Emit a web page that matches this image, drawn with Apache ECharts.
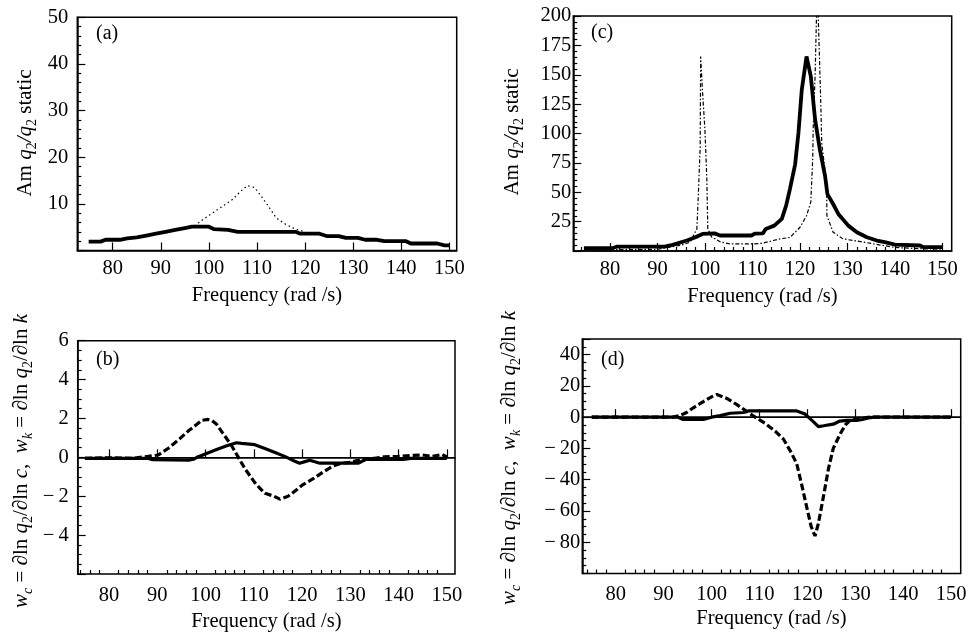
<!DOCTYPE html>
<html><head><meta charset="utf-8">
<script src="https://cdn.jsdelivr.net/npm/echarts@6/dist/echarts.min.js"></script>
<style>html,body{margin:0;padding:0;background:#fff}#c{width:975px;height:632px}</style>
</head><body><div id="c"></div>
<script>
const FONT = 'Liberation Serif';

// tick labels
const xTicks = [80, 90, 100, 110, 120, 130, 140, 150];
const xMinorTicks = [74,76,78,82,84,86,88,92,94,96,98,102,104,106,108,112,114,116,118,122,124,126,128,132,134,136,138,142,144,146,148];

// panel (a)
const aSolidX = [75, 77.5, 78.5, 81.5, 83, 85, 87, 89, 91, 93, 95, 96.5, 100, 101, 104, 106, 118, 119, 123, 124.5, 127, 128.5, 131, 132.5, 135, 136.5, 141, 142, 147.5, 149, 150];
const aSolidY = [1.9, 1.9, 2.3, 2.3, 2.6, 2.8, 3.2, 3.6, 4.0, 4.4, 4.8, 5.1, 5.1, 4.6, 4.4, 4.0, 4.0, 3.6, 3.6, 3.1, 3.1, 2.7, 2.7, 2.3, 2.3, 2.0, 2.0, 1.5, 1.5, 1.1, 1.1];
const aDotX = [97, 99, 101, 103, 105, 106.5, 108, 109.5, 111, 112.5, 114, 116, 118, 120];
const aDotY = [5.3, 6.8, 8.2, 9.6, 11.0, 12.6, 13.9, 13.5, 11.5, 9.3, 7.0, 5.6, 4.6, 4.0];

// panel (c)
const cSolidX = [74.5, 80.5, 81.5, 91.5, 93.2, 96.2, 98, 99.5, 102, 103.2, 109.8, 110.5, 112.2, 112.8, 114.6, 116.2, 117.1, 117.9, 119, 119.7, 120.4, 121.4, 122.3, 123.2, 124.2, 125.3, 125.8, 127, 128.1, 130.2, 132, 134.1, 136.2, 137.9, 140, 145.3, 146, 150];
const cSolidY = [2.4, 2.4, 3.8, 3.8, 5.2, 8.9, 11.7, 14.5, 15, 13.2, 13.2, 14.8, 15, 18.8, 21.6, 27.3, 38.6, 52.7, 73.8, 100.7, 137.3, 165.6, 148.7, 112, 86.5, 64, 48.4, 40, 31.5, 21.6, 16, 11.7, 8.9, 7.5, 5.5, 4.7, 3.3, 3.3];
const cThinX = [76, 85, 90, 92.6, 95, 96.9, 98.3, 98.6, 99, 99.1, 99.5, 100, 100.4, 100.6, 101.4, 103.2, 105.3, 110, 112, 114.4, 116, 117.9, 120, 121.4, 122.3, 122.7, 122.8, 123.2, 123.5, 123.7, 123.9, 124.1, 124.4, 124.6, 125.1, 125.6, 125.7, 127, 129.1, 132, 135.5, 140, 145, 150];
const cThinY = [1, 1.2, 1.5, 3.3, 5, 7.5, 18.8, 47, 89, 165.5, 135, 103, 61, 19, 12, 7.8, 6, 6, 6.5, 8.9, 10.5, 11.5, 20, 30, 41.6, 78, 103.5, 148.6, 199.4, 230, 194, 168, 126, 92, 75, 58.6, 30, 16, 10.3, 8.5, 6.1, 3, 2, 1.5];

// panel (b)
const bDashX = [75, 80, 85, 88.1, 90.2, 92.3, 94.4, 96.4, 98.2, 99.2, 100.5, 101.3, 102.3, 103.7, 105.4, 106.8, 108.2, 110.2, 111.3, 112.3, 114.2, 115.4, 117.1, 118.2, 120.2, 122.3, 124.4, 126.4, 128.2, 130.2, 132.3, 135, 137, 140, 143, 145, 147, 149, 150];
const bDashY = [-0.05, -0.02, -0.05, 0.05, 0.12, 0.47, 0.9, 1.35, 1.7, 1.9, 1.95, 1.9, 1.7, 1.2, 0.6, 0.0, -0.6, -1.3, -1.6, -1.85, -2.0, -2.15, -2.0, -1.8, -1.4, -1.1, -0.75, -0.45, -0.3, -0.25, -0.1, -0.05, 0.03, 0.05, 0.1, 0.12, 0.05, 0.15, 0.02];
const bSolidX = [75, 88, 89, 96.5, 97.5, 98.2, 99.2, 100.2, 102.3, 104.4, 106.4, 107.5, 110.2, 112.3, 114.4, 116.4, 118.5, 119.5, 120.6, 121.6, 123.7, 131.6, 133.3, 141, 142.5, 150];
const bSolidY = [-0.05, -0.05, -0.12, -0.15, -0.1, 0, 0.1, 0.2, 0.4, 0.6, 0.75, 0.72, 0.65, 0.45, 0.25, 0.05, -0.2, -0.3, -0.22, -0.15, -0.3, -0.3, -0.1, -0.1, -0.05, -0.05];

// panel (d)
const dDashX = [75, 85, 92, 93.4, 94.8, 96.2, 98.3, 100, 101.1, 103.2, 105.3, 107.2, 109.1, 111.2, 113.3, 115, 116.7, 117.8, 118.8, 119.9, 120.8, 121.6, 122.3, 123.4, 124.4, 125.4, 126.8, 127.9, 128.9, 130, 132, 133, 140, 150];
const dDashY = [0, 0, 0, 1, 3, 6, 10, 13, 14.5, 12, 8, 4, 0, -4, -9, -14, -23, -30, -43, -58, -70, -76, -68, -50, -33, -20, -11, -5, -2, -1, -0.5, 0, 0, 0];
const dSolidX = [75, 93, 94.1, 98.3, 100, 101.8, 103.9, 106.7, 107.7, 117.8, 119.5, 120.2, 121.3, 122.3, 123.4, 125.4, 126.8, 128.2, 130.3, 131.5, 132.7, 134, 150];
const dSolidY = [0, 0, -1.5, -1.5, 0, 1, 2.5, 3, 4, 4, 2, 0, -3, -6, -5.5, -4.5, -2.5, -2, -2, -1.5, -0.5, 0, 0];

function pts(xs, ys) { return xs.map((x, i) => [x, ys[i]]); }
const minusFmt = v => v < 0 ? '\u2212\u2009' + Math.abs(v) : String(v);

// panel rectangles
const P = {
  a: {left: 77.3, top: 17.3, width: 379.4, height: 233.2, xmin: 72.64, xmax: 151.54, gap: 35, lm: 8},
  c: {left: 573.3, top: 16, width: 378.4, height: 235, xmin: 72.27, xmax: 151.98, gap: 35, lm: 8},
  b: {left: 77.7, top: 340.7, width: 377.3, height: 233.3, xmin: 73.5, xmax: 151.7, gap: 37, lm: 11},
  d: {left: 582.3, top: 339, width: 378.4, height: 234.5, xmin: 73.03, xmax: 152.0, gap: 35, lm: 11}
};
const LBL = 20.5;
const order = ['a', 'c', 'b', 'd'];
const lineBlack = {color: '#000', width: 1.5};
const tickStyle = {color: '#000', width: 1.2};
const grids = [], xAxes = [], yAxes = [];
order.forEach((k, i) => {
  const p = P[k];
  grids.push({left: p.left, top: p.top, width: p.width, height: p.height, show: true, borderColor: '#000', borderWidth: 1.5, containLabel: false, outerBoundsMode: 'none'});
  xAxes.push({type: 'value', gridIndex: i, min: p.xmin, max: p.xmax, position: 'bottom',
    axisLine: {show: true, lineStyle: lineBlack},
    axisTick: {show: true, inside: true, length: 8, customValues: xTicks, lineStyle: tickStyle},
    axisLabel: {customValues: xTicks, color: '#000', fontFamily: FONT, fontSize: LBL, margin: p.lm},
    splitLine: {show: false},
    name: 'Frequency (rad /s)', nameLocation: 'middle', nameGap: p.gap,
    nameTextStyle: {color: '#000', fontFamily: FONT, fontSize: LBL}
  });
});
// overlay grids for minor x ticks (c, b, d)
['c', 'b', 'd'].forEach((k) => {
  const p = P[k];
  const gi = grids.length;
  grids.push({left: p.left, top: p.top, width: p.width, height: p.height, show: false, containLabel: false, outerBoundsMode: 'none'});
  xAxes.push({type: 'value', gridIndex: gi, min: p.xmin, max: p.xmax, position: 'bottom',
    axisLine: {show: false},
    axisTick: {show: true, inside: true, length: 4, customValues: xMinorTicks, lineStyle: tickStyle},
    axisLabel: {show: false}, splitLine: {show: false}});
  yAxes.push({type: 'value', gridIndex: gi, show: false, min: 0, max: 1});
});

const yCommon = (gi, min, max, interval, split, margin) => ({
  type: 'value', gridIndex: gi, min: min, max: max, interval: interval,
  axisLine: {show: true, lineStyle: lineBlack},
  axisTick: {show: true, inside: true, length: 8, lineStyle: tickStyle},
  minorTick: {show: true, splitNumber: split, length: 4, lineStyle: tickStyle},
  axisLabel: {color: '#000', fontFamily: FONT, fontSize: LBL, margin: margin, formatter: minusFmt, showMinLabel: false},
  splitLine: {show: false}, minorSplitLine: {show: false}
});
const yMain = [
  yCommon(0, 0, 50, 10, 5, 9),
  yCommon(1, 0, 200, 25, 5, 2),
  yCommon(2, -6, 6, 2, 4, 9),
  yCommon(3, -100, 50, 20, 4, 2)
];
yMain[3].axisLabel.showMaxLabel = false;
const yAll = yMain.concat(yAxes);

const ln = (xi, data, width, type) => ({
  type: 'line', xAxisIndex: xi, yAxisIndex: xi, data: data, symbol: 'none', showSymbol: false,
  lineStyle: {color: '#000', width: width, type: type}, clip: true, silent: true, animation: false
});
const zeroLine = {silent: true, symbol: 'none', label: {show: false},
  lineStyle: {color: '#000', width: 1, type: 'solid'}, data: [{yAxis: 0}], animation: false};

const series = [
  ln(0, pts(aDotX, aDotY), 1.2, [1.5, 3]),
  ln(0, pts(aSolidX, aSolidY), 3.8, 'solid'),
  ln(1, pts(cThinX, cThinY), 1.2, [4, 2, 1.5, 2]),
  ln(1, pts(cSolidX, cSolidY), 3.8, 'solid'),
  Object.assign(ln(2, pts(bSolidX, bSolidY), 3.2, 'solid'), {markLine: zeroLine}),
  ln(2, pts(bDashX, bDashY), 3.2, [7, 3]),
  Object.assign(ln(3, pts(dSolidX, dSolidY), 3.2, 'solid'), {markLine: zeroLine}),
  ln(3, pts(dDashX, dDashY), 3.2, [7, 3])
];

const mkRich = (fs) => {
  const base = {fontFamily: FONT, fontSize: fs, lineHeight: fs + 4, color: '#000'};
  const sub = {fontFamily: FONT, fontSize: Math.round(fs * 0.65), lineHeight: Math.round(fs * 0.65), verticalAlign: 'bottom', color: '#000', padding: [0, 0, -2, 0]};
  return {
    r: Object.assign({}, base),
    i: Object.assign({}, base, {fontStyle: 'italic'}),
    s: Object.assign({}, sub),
    si: Object.assign({}, sub, {fontStyle: 'italic'})
  };
};
const titleA = '{r|Am }{i|q}{s|2}{i|/q}{s|2}{r| static}';
const titleB = '{i|w}{si|c}{r| = \u2202ln }{i|q}{s|2}{r|/\u2202ln }{i|c}{r|,  }{i|w}{si|k}{r| = \u2202ln }{i|q}{s|2}{r|/\u2202ln }{i|k}';
const ytitle = (x, y, t, fs) => ({type: 'text', x: x, y: y, rotation: Math.PI / 2, silent: true,
  style: {text: t, rich: mkRich(fs), align: 'center', verticalAlign: 'middle', fill: '#000', font: fs + 'px ' + FONT}});
const plabel = (x, y, t) => ({type: 'text', x: x, y: y, silent: true,
  style: {text: t, fill: '#000', font: '20px ' + FONT, align: 'left', verticalAlign: 'middle'}});

const chart = echarts.init(document.getElementById('c'), null, {renderer: 'canvas'});
chart.setOption({
  animation: false,
  backgroundColor: '#fff',
  grid: grids, xAxis: xAxes, yAxis: yAll, series: series,
  graphic: [
    ytitle(25, 133, titleA, 21),
    ytitle(512, 132, titleA, 21),
    ytitle(21, 461, titleB, 21),
    ytitle(509, 458, titleB, 21),
    plabel(96, 34, '(a)'),
    plabel(591, 33, '(c)'),
    plabel(96, 360, '(b)'),
    plabel(601, 360, '(d)')
  ]
});
</script></body></html>
